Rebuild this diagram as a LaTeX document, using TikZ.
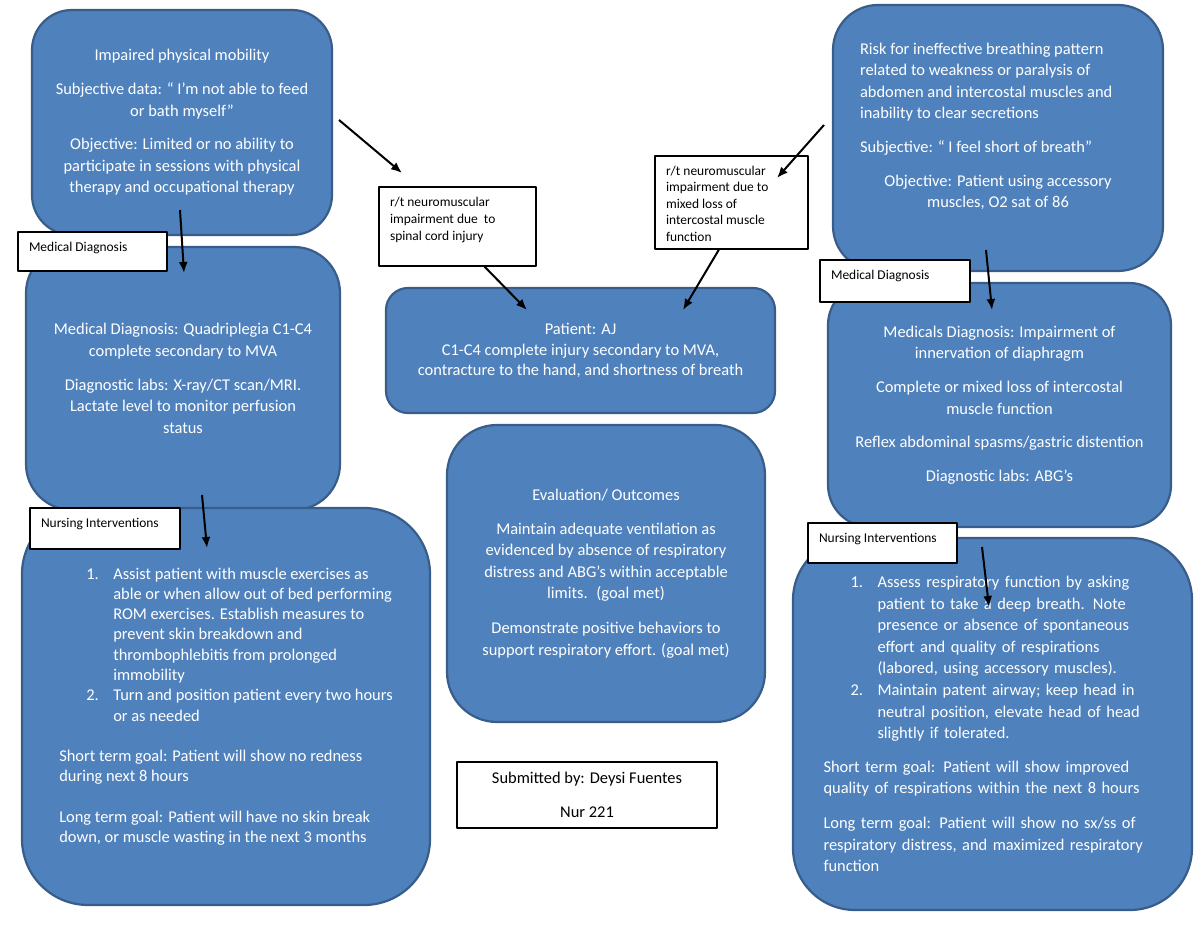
\documentclass[tikz,border=0pt]{standalone}
\usepackage{fontspec}
\setmainfont{Carlito}
\usepackage{tikz}
\usetikzlibrary{arrows.meta,positioning,calc}
\definecolor{boxblue}{RGB}{79,129,189}
\definecolor{boxedge}{RGB}{56,93,138}
% indents for the numbered lists
\newcommand{\numgap}{\hspace*{27bp}}
\newcommand{\num}[1]{\numgap\makebox[27bp][l]{#1}}
\newcommand{\hang}{\hspace*{54bp}}
\newcommand{\toptext}[3]{\parbox[c][#2][t]{#1}{#3}}

\begin{document}
\begin{tikzpicture}[>={Latex[length=11bp,width=9bp]},line join=bevel,
  bluebox/.style={draw=boxedge,fill=boxblue,line width=2.2bp,text=white,
    font=\fontsize{16.5}{21.7}\selectfont},
  tag/.style={draw=black,fill=white,line width=1.5bp,inner xsep=11bp,inner ysep=10bp,
    font=\fontsize{13.5}{17}\selectfont},
  conn/.style={->,line width=2bp}]
\useasboundingbox (0bp,0bp) rectangle (1200bp,927bp);
%%
\node (mobil) at (182bp,804.5bp) [bluebox,minimum width=300bp,minimum height=225bp,rounded corners=40bp,align=center]
  {Impaired physical mobility\\[12bp]
   Subjective data: “ I’m not able to feed\\
   or bath myself”\\[12bp]
   Objective: Limited or no ability to\\
   participate in sessions with physical\\
   therapy and occupational therapy};
\node (meddiagL) at (183bp,548.5bp) [bluebox,minimum width=314bp,minimum height=263bp,rounded corners=46bp,align=center]
  {Medical Diagnosis: Quadriplegia C1-C4\\
   complete secondary to MVA\\[12bp]
   Diagnostic labs: X-ray/CT scan/MRI.\\
   Lactate level to monitor perfusion\\
   status};
\node (nursL) at (222bp,220.5bp) [bluebox,minimum width=408bp,minimum height=397bp,rounded corners=66bp,align=left,
  font=\fontsize{16.5}{20.4}\selectfont,xshift=4bp]
  {\num{1.}Assist patient with muscle exercises as\\
   \hang able or when allow out of bed performing\\
   \hang ROM exercises. Establish measures to\\
   \hang prevent skin breakdown and\\
   \hang thrombophlebitis from prolonged\\
   \hang immobility\\
   \num{2.}Turn and position patient every two hours\\
   \hang or as needed\\[20bp]
   Short term goal: Patient will show no redness\\
   during next 8 hours\\[20bp]
   Long term goal: Patient will have no skin break\\
   down, or muscle wasting in the next 3 months};
\node (patient) at (580.5bp,576.5bp) [bluebox,minimum width=389bp,minimum height=125bp,rounded corners=22bp,align=center,
  font=\fontsize{16.5}{20.5}\selectfont]
  {Patient: AJ\\
   C1-C4 complete injury secondary to MVA,\\
   contracture to the hand, and shortness of breath};
\node (eval) at (606bp,353.5bp) [bluebox,minimum width=318bp,minimum height=297bp,rounded corners=50bp,align=center]
  {Evaluation/ Outcomes\\[12bp]
   Maintain adequate ventilation as\\
   evidenced by absence of respiratory\\
   distress and ABG’s within acceptable\\
   limits.~ (goal met)\\[13bp]
   Demonstrate positive behaviors to\\
   support respiratory effort. (goal met)};
\node (submit) at (587bp,132bp) [draw=black,fill=white,line width=1.2bp,minimum width=260bp,minimum height=66bp,align=center,
  font=\fontsize{16.5}{21.7}\selectfont]
  {Submitted by: Deysi Fuentes\\[12bp]
   Nur 221};
\node (risk) at (998bp,789bp) [bluebox,minimum width=330bp,minimum height=266bp,rounded corners=45bp,align=left]
  {Risk for ineffective breathing pattern\\
   related to weakness or paralysis of\\
   abdomen and intercostal muscles and\\
   inability to clear secretions\\[12bp]
   Subjective: “ I feel short of breath”\\[12bp]
   \makebox[276bp][c]{Objective: Patient using accessory}\\
   \makebox[276bp][c]{muscles, O2 sat of 86}\\[4bp]
   \mbox{}};
\node (meddiagR) at (999.5bp,522bp) [bluebox,minimum width=343bp,minimum height=244bp,rounded corners=42bp,align=center]
  {Medicals Diagnosis: Impairment of\\
   innervation of diaphragm\\[12bp]
   Complete or mixed loss of intercostal\\
   muscle function\\[12bp]
   Reflex abdominal spasms/gastric distention\\[12bp]
   Diagnostic labs: ABG’s};
\node (nursR) at (992.5bp,203bp) [bluebox,minimum width=399bp,minimum height=372bp,rounded corners=62bp,
  text width=338bp,align=left]
  {\num{1.}Assess respiratory function by asking\\
   \hang patient to take a deep breath. Note\\
   \hang presence or absence of spontaneous\\
   \hang effort and quality of respirations\\
   \hang (labored, using accessory muscles).\\
   \num{2.}Maintain patent airway; keep head in\\
   \hang neutral position, elevate head of head\\
   \hang slightly if tolerated.\\[12bp]
   Short term goal: Patient will show improved\\
   quality of respirations within the next 8 hours\\[13bp]
   Long term goal: Patient will show no sx/ss of\\
   respiratory distress, and maximized respiratory\\
   function};
%
\node (tagMedL) at (92.5bp,675.5bp) [tag] {\toptext{127bp}{19bp}{Medical Diagnosis}};
\node (tagNursL) at (105bp,398.5bp) [tag] {\toptext{128bp}{21bp}{Nursing Interventions}};
\node (tagMedR) at (895bp,646bp) [tag] {\toptext{128bp}{22bp}{Medical Diagnosis}};
\node (tagNursR) at (882.5bp,384bp) [tag] {\toptext{127bp}{20bp}{Nursing Interventions}};
\node (rtL) at (457.5bp,700.5bp) [tag] {\toptext{135bp}{59bp}{r/t neuromuscular\\ impairment due~ to\\ spinal cord injury}};
\node (rtR) at (731.5bp,724.5bp) [tag,font=\fontsize{13.5}{16.5}\selectfont]
  {\toptext{131bp}{73bp}{r/t neuromuscular\\ impairment due to\\ mixed loss of\\ intercostal muscle\\ function}};
%
\coordinate (mobilOut) at (339bp,807bp);
\coordinate (rtLIn) at (402bp,754bp);
\coordinate (riskOut) at (824bp,802bp);
\coordinate (rtRIn) at (777bp,749bp);
\coordinate (patInL) at (527bp,617bp);
\coordinate (patInR) at (683bp,617bp);
\coordinate (mobilDown) at (180bp,717bp);
\coordinate (medLIn) at (184bp,654bp);
\coordinate (medLDown) at (202bp,432bp);
\coordinate (nursLIn) at (207bp,379bp);
\coordinate (riskDown) at (986bp,677bp);
\coordinate (medRIn) at (992bp,617bp);
\coordinate (medRDown) at (982bp,380bp);
\coordinate (nursRIn) at (989bp,320bp);
\draw [conn] (mobilOut) -- (rtLIn);
\draw [conn] (riskOut) -- (rtRIn);
\draw [conn] (rtL.-56) -- (patInL);
\draw [conn] (rtR.-105) -- (patInR);
\draw [conn] (mobilDown) -- (medLIn);
\draw [conn] (medLDown) -- (nursLIn);
\draw [conn] (riskDown) -- (medRIn);
\draw [conn] (medRDown) -- (nursRIn);
%
\end{tikzpicture}
\end{document}
